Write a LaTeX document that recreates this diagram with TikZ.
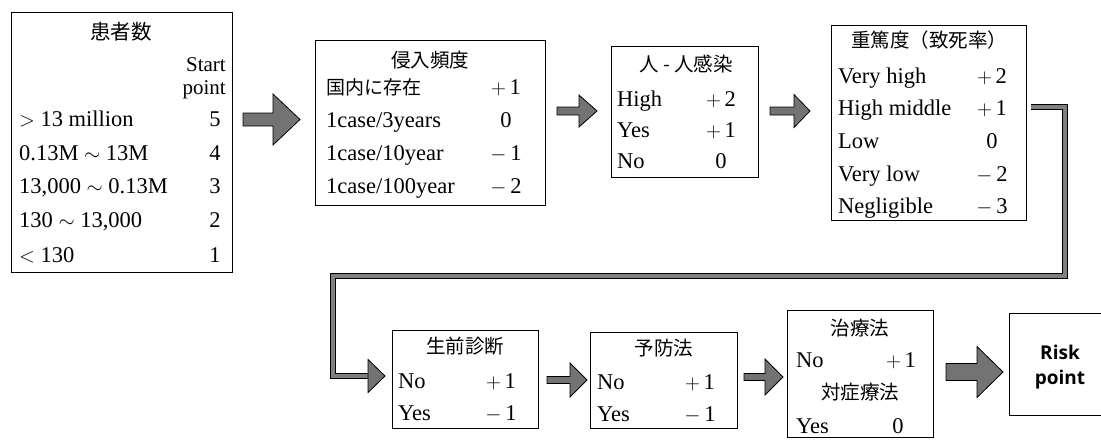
\documentclass[tikz,border=0pt]{standalone}
\usepackage{fontspec}
\setmainfont{Liberation Serif}
\newfontfamily\cjkfont{Noto Sans CJK JP}
\newfontfamily\rpfont{Open Sans}
\usetikzlibrary{calc}
% block arrow: start coord, tip coord, shaft half-width, head half-width, head length
\newcommand\fatarrow[5]{\draw[blk] ($(#1)+(0,-#3)$) -- ($(#2)+(-#5,-#3)$) -- ($(#2)+(-#5,-#4)$) -- (#2) -- ($(#2)+(-#5,#4)$) -- ($(#2)+(-#5,#3)$) -- ($(#1)+(0,#3)$) -- cycle;}
\tikzset{
  box/.style={draw, line width=1.1pt, inner sep=0pt, anchor=north west},
  lab/.style={anchor=base west, inner sep=0pt, font=\fontsize{22.5}{26}\selectfont},
  rlab/.style={anchor=base east, inner sep=0pt, font=\fontsize{21}{24}\selectfont},
  val/.style={anchor=base, inner sep=0pt, font=\fontsize{22.5}{26}\selectfont},
  ttl/.style={anchor=center, inner sep=0pt, font=\fontsize{19.5}{22}\selectfont\cjkfont},
  cjklab/.style={anchor=base west, inner sep=0pt, font=\fontsize{19}{22}\selectfont\cjkfont},
  rp/.style={anchor=center, inner sep=0pt, font=\fontsize{19}{22}\selectfont\rpfont\bfseries},
  blk/.style={draw=black, line width=0.8pt, fill=black!55, line join=miter},
  band/.style={line width=4.4pt, draw=black!50, line join=miter, preaction={draw=black, line width=6.6pt}},
}
\begin{document}
\begin{tikzpicture}[x=1pt,y=-1pt]
\useasboundingbox (0,0) rectangle (1101,440);

% ---- boxes
\node[box, minimum width=221pt, minimum height=260pt] (b1) at (11,12) {};
\node[box, minimum width=230pt, minimum height=165pt] (b2) at (315,40) {};
\node[box, minimum width=147pt, minimum height=131pt] (b3) at (611,46) {};
\node[box, minimum width=195pt, minimum height=195pt] (b4) at (831,25) {};
\node[box, minimum width=146pt, minimum height=98pt] (b5) at (392,330) {};
\node[box, minimum width=147pt, minimum height=96pt] (b6) at (590,332) {};
\node[box, minimum width=146pt, minimum height=127pt] (b7) at (787,310) {};
\node[box, minimum width=100pt, minimum height=102pt] (b8) at (1009,313) {};

% ---- box 1
\node[ttl, font=\fontsize{20.5}{22}\selectfont\cjkfont] (t1) at (121,32) {患者数};
\node[rlab] (s1) at (226,71) {Start};
\node[rlab] (s2) at (226,94) {point};
\node[lab] (r11) at (19,126) {$>$ 13 million};
\node[lab] (r12) at (19,160) {0.13M $\sim$ 13M};
\node[lab] (r13) at (19,193) {13,000 $\sim$ 0.13M};
\node[lab] (r14) at (19,227) {130 $\sim$ 13,000};
\node[lab] (r15) at (19,262) {$<$ 130};
\node[val] (v11) at (215,126) {5};
\node[val] (v12) at (215,160) {4};
\node[val] (v13) at (215,193) {3};
\node[val] (v14) at (215,227) {2};
\node[val] (v15) at (215,262) {1};

% ---- box 2
\node[ttl] (t2) at (430,60) {侵入頻度};
\node[cjklab] (r21) at (326,94) {国内に存在};
\node[lab] (r22) at (326,127) {1case/3years};
\node[lab] (r23) at (326,160) {1case/10year};
\node[lab] (r24) at (326,193) {1case/100year};
\node[val] (v21) at (506,94) {$+$\,1};
\node[val] (v22) at (506,127) {0};
\node[val] (v23) at (506,160) {$-$\,1};
\node[val] (v24) at (506,193) {$-$\,2};

% ---- box 3
\node[ttl] (t3) at (686,64) {人 - 人感染};
\node[lab] (r31) at (617,106) {High};
\node[lab] (r32) at (617,137) {Yes};
\node[lab] (r33) at (617,168) {No};
\node[val] (v31) at (721,106) {$+$\,2};
\node[val] (v32) at (721,137) {$+$\,1};
\node[val] (v33) at (721,168) {0};

% ---- box 4
\node[ttl] (t4) at (929,40) {重篤度（致死率）};
\node[lab] (r41) at (838,83) {Very high};
\node[lab] (r42) at (838,115) {High middle};
\node[lab] (r43) at (838,148) {Low};
\node[lab] (r44) at (838,181) {Very low};
\node[lab] (r45) at (838,213) {Negligible};
\node[val] (v41) at (992,83) {$+$\,2};
\node[val] (v42) at (992,115) {$+$\,1};
\node[val] (v43) at (992,148) {0};
\node[val] (v44) at (992,181) {$-$\,2};
\node[val] (v45) at (992,213) {$-$\,3};

% ---- box 5
\node[ttl] (t5) at (465,346) {生前診断};
\node[lab] (r51) at (398,388) {No};
\node[lab] (r52) at (398,420) {Yes};
\node[val] (v51) at (501,388) {$+$\,1};
\node[val] (v52) at (501,420) {$-$\,1};

% ---- box 6
\node[ttl] (t6) at (664,348) {予防法};
\node[lab] (r61) at (597,389) {No};
\node[lab] (r62) at (597,421) {Yes};
\node[val] (v61) at (700,389) {$+$\,1};
\node[val] (v62) at (700,421) {$-$\,1};

% ---- box 7
\node[ttl] (t7) at (860,328) {治療法};
\node[lab] (r71) at (796,367) {No};
\node[val] (v71) at (901,367) {$+$\,1};
\node[ttl] (t7b) at (860,392) {対症療法};
\node[lab] (r72) at (796,433) {Yes};
\node[val] (v72) at (898,433) {0};

% ---- box 8
\node[rp] (rp1) at (1060,352) {Risk};
\node[rp] (rp2) at (1060,380) {point};

% ---- block arrows
\coordinate (a1s) at (243,119.5); \coordinate (a1e) at (300,119.5);
\coordinate (a2s) at (557,111);   \coordinate (a2e) at (597,111);
\coordinate (a3s) at (770,111);   \coordinate (a3e) at (810,111);
\coordinate (a5s) at (547,380);   \coordinate (a5e) at (587,380);
\coordinate (a6s) at (744,377);   \coordinate (a6e) at (783,377);
\coordinate (a7s) at (946,372);   \coordinate (a7e) at (1003,372);
\fatarrow{a1s}{a1e}{6.5}{25.5}{27}
\fatarrow{a2s}{a2e}{4}{16}{18}
\fatarrow{a3s}{a3e}{4}{16.5}{16}
\fatarrow{a5s}{a5e}{3.5}{17}{17}
\fatarrow{a6s}{a6e}{3.5}{18}{18}
\fatarrow{a7s}{a7e}{8.5}{25.5}{26}

% ---- long connector from box 4 to box 5
\coordinate (c0) at (1031,107);
\coordinate (c1) at (1065,107);
\coordinate (c2) at (1065,276);
\coordinate (c3) at (333,276);
\coordinate (c4) at (333,376);
\coordinate (c5) at (368,376);
\coordinate (c6) at (385,376);
\draw[band] (c0) -- (c1) -- (c2) -- (c3) -- (c4) -- (c5);
\fatarrow{c5}{c6}{0}{16.5}{17}
\end{tikzpicture}
\end{document}
